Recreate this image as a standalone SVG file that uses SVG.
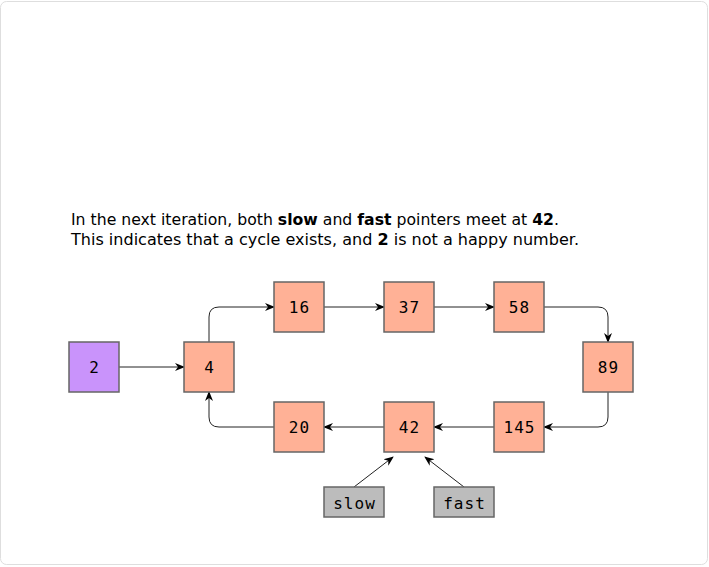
<svg xmlns="http://www.w3.org/2000/svg" width="709" height="567" viewBox="0 0 709 567">
<defs>
<style>
.frame{fill:#fff;stroke:#dedede;stroke-width:1}
.n{fill:#ffb196;stroke:#666;stroke-width:1.5}
.p{fill:#c993fb;stroke:#666;stroke-width:1.5}
.g{fill:#bcbcbc;stroke:#666;stroke-width:1.5}
.lbl{font-family:"DejaVu Sans Mono","Liberation Mono",monospace;font-size:16px;fill:#000;text-anchor:middle;dominant-baseline:central;letter-spacing:1px}
.c{fill:none;stroke:#222;stroke-width:1}
.t{font-family:"DejaVu Sans","Verdana",sans-serif;font-size:15.5px;fill:#000}
</style>
<marker id="a" viewBox="0 0 10 10" refX="9" refY="5" markerWidth="10" markerHeight="10" markerUnits="userSpaceOnUse" orient="auto">
<path d="M0,1 L10,5 L0,9 L3,5 Z" fill="#000"/>
</marker>
</defs>
<rect class="frame" x="0.5" y="1.5" width="707" height="563" rx="6"/>
<g id="caption">
<text class="t" x="71" y="225" textLength="488" lengthAdjust="spacingAndGlyphs">In the next iteration, both <tspan font-weight="bold">slow</tspan> and <tspan font-weight="bold">fast</tspan> pointers meet at <tspan font-weight="bold">42</tspan>.</text>
<text class="t" x="71" y="245" textLength="508" lengthAdjust="spacingAndGlyphs">This indicates that a cycle exists, and <tspan font-weight="bold">2</tspan> is not a happy number.</text>
</g>
<g id="connectors">
<path class="c" d="M119,367 H184" marker-end="url(#a)"/>
<path class="c" d="M209,342 V317 Q209,307 219,307 H274" marker-end="url(#a)"/>
<path class="c" d="M324,307 H384" marker-end="url(#a)"/>
<path class="c" d="M434,307 H494" marker-end="url(#a)"/>
<path class="c" d="M544,307 H598 Q608,307 608,317 V342" marker-end="url(#a)"/>
<path class="c" d="M608,392 V417 Q608,427 598,427 H544" marker-end="url(#a)"/>
<path class="c" d="M494,427 H434" marker-end="url(#a)"/>
<path class="c" d="M384,427 H324" marker-end="url(#a)"/>
<path class="c" d="M274,427 H219 Q209,427 209,417 V392" marker-end="url(#a)"/>
<path class="c" d="M354,487 L393,457" marker-end="url(#a)"/>
<path class="c" d="M464,487 L425,457" marker-end="url(#a)"/>
</g>
<g id="n2"><rect class="p" x="69" y="342" width="50" height="50"/><text class="lbl" x="94.5" y="367">2</text></g>
<g id="n4"><rect class="n" x="184" y="342" width="50" height="50"/><text class="lbl" x="209.5" y="367">4</text></g>
<g id="n16"><rect class="n" x="274" y="282" width="50" height="50"/><text class="lbl" x="299.5" y="307">16</text></g>
<g id="n37"><rect class="n" x="384" y="282" width="50" height="50"/><text class="lbl" x="409.5" y="307">37</text></g>
<g id="n58"><rect class="n" x="494" y="282" width="50" height="50"/><text class="lbl" x="519.5" y="307">58</text></g>
<g id="n89"><rect class="n" x="583" y="342" width="50" height="50"/><text class="lbl" x="608.5" y="367">89</text></g>
<g id="n145"><rect class="n" x="494" y="402" width="50" height="50"/><text class="lbl" x="519.5" y="427">145</text></g>
<g id="n42"><rect class="n" x="384" y="402" width="50" height="50"/><text class="lbl" x="409.5" y="427">42</text></g>
<g id="n20"><rect class="n" x="274" y="402" width="50" height="50"/><text class="lbl" x="299.5" y="427">20</text></g>
<g id="slow"><rect class="g" x="324" y="487" width="60" height="30"/><text class="lbl" x="354.5" y="503">slow</text></g>
<g id="fast"><rect class="g" x="434" y="487" width="60" height="30"/><text class="lbl" x="464.5" y="503">fast</text></g>
</svg>
